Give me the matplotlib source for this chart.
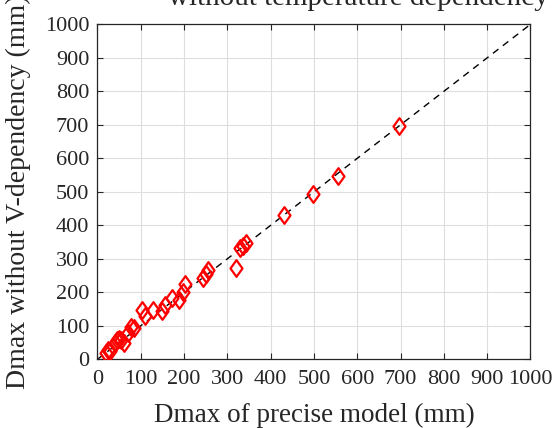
import matplotlib.pyplot as plt
import numpy as np
from matplotlib.path import Path

# Dmax of the precise model vs. Dmax without V-dependency (mm)
dmax_precise = [20, 25, 30, 40, 45, 50, 55, 62, 70, 78, 85,
                103, 110, 128, 150, 157, 172, 188, 197, 202,
                244, 250, 256, 320, 330, 336, 343,
                430, 498, 556, 697]
dmax_no_v = [20, 27, 24, 50, 58, 62, 57, 48, 80, 96, 92,
             147, 130, 147, 145, 162, 183, 178, 200, 226,
             244, 254, 266, 274, 332, 338, 346,
             430, 493, 547, 695]

plt.rcParams['font.family'] = ['Liberation Serif', 'DejaVu Serif']
ink = '#262626'

fig = plt.figure(figsize=(5.58, 4.28), dpi=100)
ax = fig.add_axes([0.1747, 0.1605, 0.776, 0.7827])

# 1:1 reference line
ref = np.array([0, 1000])
ax.plot(ref, ref, '--', color='black', lw=1.0, dashes=(5, 4), zorder=2)

diamond = Path([(0, 1), (0.72, 0), (0, -1), (-0.72, 0), (0, 1)],
               [Path.MOVETO, Path.LINETO, Path.LINETO, Path.LINETO, Path.CLOSEPOLY])
ax.plot(dmax_precise, dmax_no_v, linestyle='none', marker=diamond,
        markersize=12, markerfacecolor='none', markeredgecolor='red',
        markeredgewidth=1.6, zorder=3)

ax.set_xlim(0, 1000)
ax.set_ylim(0, 1000)
ax.set_xticks(np.arange(0, 1001, 100))
ax.set_yticks(np.arange(0, 1001, 100))
ax.grid(True, color='#dedede', lw=0.8)
ax.set_axisbelow(True)
ax.tick_params(direction='in', length=4, width=0.8, top=True, right=True,
               labelsize=16, colors=ink)
ax.tick_params(axis='x', pad=8)
ax.tick_params(axis='y', pad=6)
for s in ax.spines.values():
    s.set_color(ink)
    s.set_linewidth(0.9)

ax.set_xlabel('Dmax of precise model (mm)', fontsize=19.5, color=ink, labelpad=10)
ax.set_ylabel('Dmax without V-dependency (mm)', fontsize=20, color=ink, labelpad=10)
fig.text(0.643, 0.988, 'without temperature dependency', fontsize=21,
         color=ink, ha='center', va='baseline')

fig.savefig('out.png', dpi=100)
